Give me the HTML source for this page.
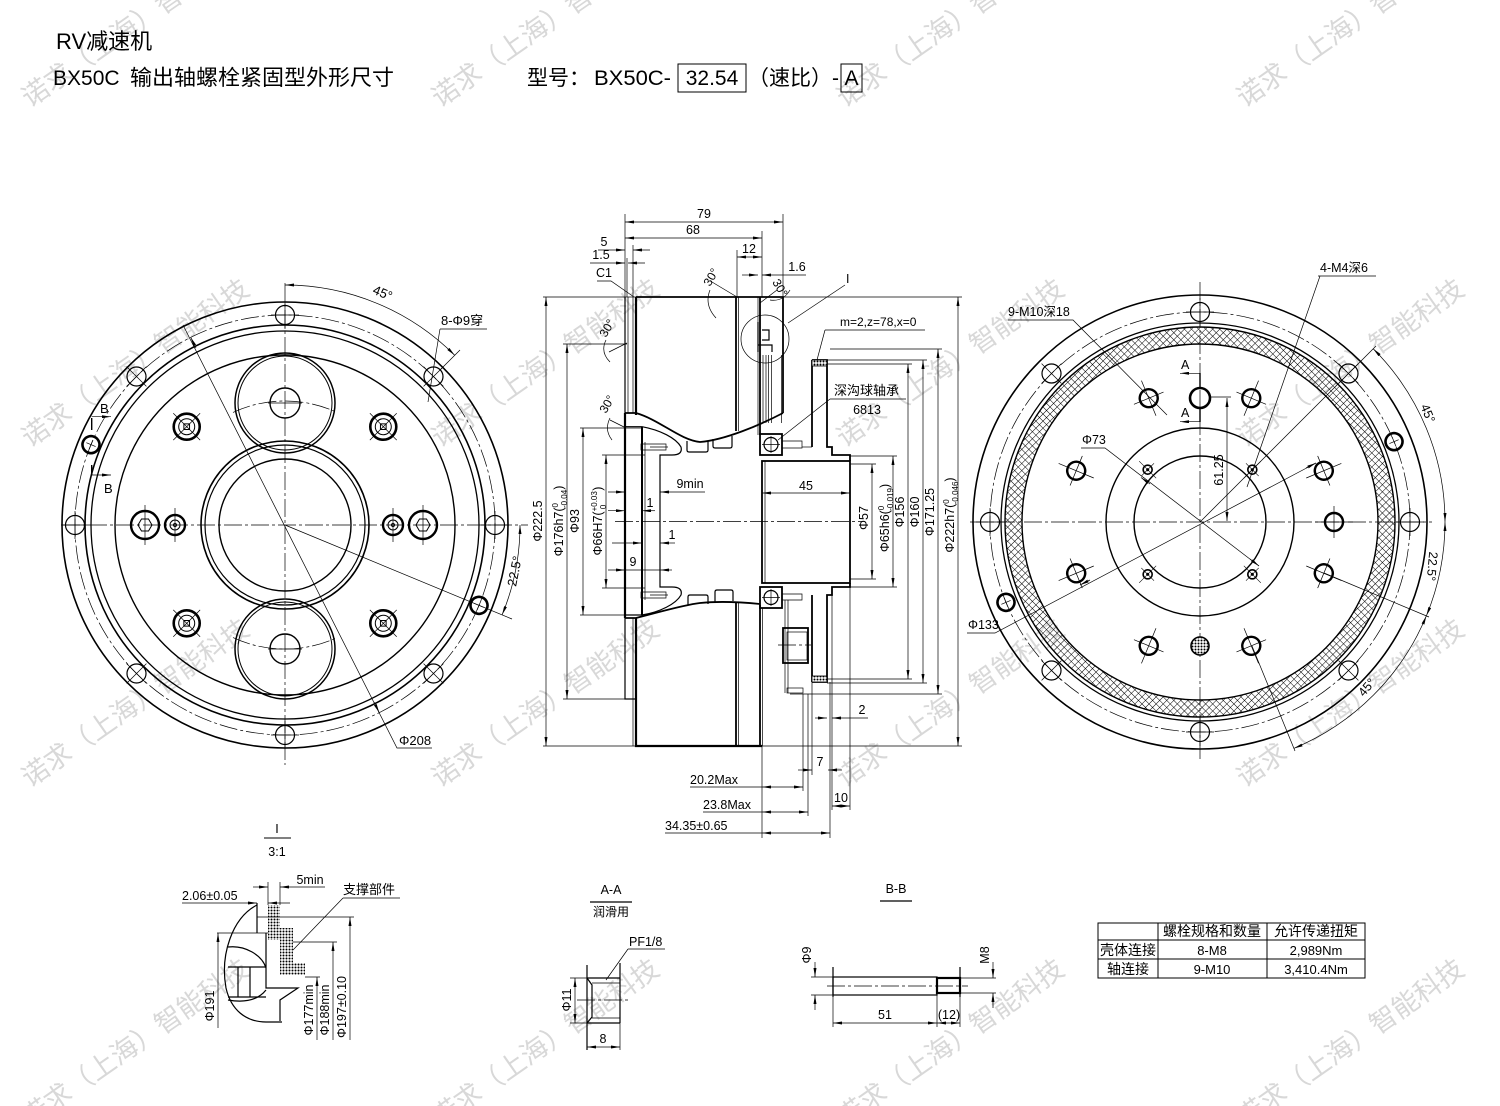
<!DOCTYPE html>
<html><head><meta charset="utf-8"><style>
html,body{margin:0;padding:0;background:#fff;}
svg{display:block;}
.g path,.g line,.g circle,.g rect,.g polyline{fill:none;stroke:#000;}
.t{stroke-width:.7}
.m{stroke-width:1.2}
.k{stroke-width:1.8}
.c{stroke-width:.7;stroke-dasharray:18,3,3,3}
.d{stroke-width:.7;marker-start:url(#ar);marker-end:url(#ar)}
.e{stroke-width:.7;marker-end:url(#ar)}
.tx text{font-family:"Liberation Sans","Noto Sans CJK SC",sans-serif;fill:#000;}
</style></head><body>
<svg width="1500" height="1106" viewBox="0 0 1500 1106" xmlns="http://www.w3.org/2000/svg">
<defs>
<marker id="ar" viewBox="0 0 9 3" refX="9" refY="1.5" markerWidth="9" markerHeight="3" markerUnits="userSpaceOnUse" orient="auto-start-reverse"><path d="M0,0L9,1.5L0,3z" fill="#000"/></marker>
<pattern id="xh" width="5" height="5" patternUnits="userSpaceOnUse" patternTransform="rotate(45)"><path d="M0,0H5M0,0V5" stroke="#000" stroke-width="1" fill="none"/></pattern>
<pattern id="dots" width="3" height="3" patternUnits="userSpaceOnUse"><rect width="3" height="3" fill="#fff"/><circle cx="1.5" cy="1.5" r="1" fill="#000"/></pattern>
<g id="bh" fill="none" stroke="#000"><circle r="9.5" stroke-width="1.2"/><path d="M-14,0H14M0,-14V14" stroke-width="0.7"/></g>
<g id="bt" fill="none" stroke="#000"><circle r="8.5" stroke-width="2.6"/><path d="M-5,0H5M0,-5V5" stroke-width="0.7"/></g>
<g id="m10" fill="none" stroke="#000"><circle r="9" stroke-width="2.4"/><path d="M-19,0H19M0,-16V16" stroke-width="0.7"/></g>
<g id="lb" fill="none" stroke="#000"><circle r="13" stroke-width="2.6"/><circle r="8" stroke-width="1"/><path d="M-4,0L0,-4L4,0L0,4Z" stroke-width="1"/><path d="M-19,0H19M0,-19V19" stroke-width="0.7"/></g>
<g id="m4" fill="none" stroke="#000"><circle r="4.5" stroke-width="1.6"/><circle r="1.5" fill="#000" stroke="none"/><path d="M-12,0H12M0,-9V9" stroke-width="0.6"/></g>
</defs>

<!-- watermarks -->
<g font-family="Liberation Sans, Noto Sans CJK SC, sans-serif" font-size="27" fill="#d8d8d8">
<text transform="translate(30,108) rotate(-35)">诺求（上海）智能科技</text>
<text transform="translate(440,108) rotate(-35)">诺求（上海）智能科技</text>
<text transform="translate(845,108) rotate(-35)">诺求（上海）智能科技</text>
<text transform="translate(1245,108) rotate(-35)">诺求（上海）智能科技</text>
<text transform="translate(30,448) rotate(-35)">诺求（上海）智能科技</text>
<text transform="translate(440,448) rotate(-35)">诺求（上海）智能科技</text>
<text transform="translate(845,448) rotate(-35)">诺求（上海）智能科技</text>
<text transform="translate(1245,448) rotate(-35)">诺求（上海）智能科技</text>
<text transform="translate(30,788) rotate(-35)">诺求（上海）智能科技</text>
<text transform="translate(440,788) rotate(-35)">诺求（上海）智能科技</text>
<text transform="translate(845,788) rotate(-35)">诺求（上海）智能科技</text>
<text transform="translate(1245,788) rotate(-35)">诺求（上海）智能科技</text>
<text transform="translate(30,1128) rotate(-35)">诺求（上海）智能科技</text>
<text transform="translate(440,1128) rotate(-35)">诺求（上海）智能科技</text>
<text transform="translate(845,1128) rotate(-35)">诺求（上海）智能科技</text>
<text transform="translate(1245,1128) rotate(-35)">诺求（上海）智能科技</text>
</g>

<!-- header -->
<g class="tx">
<text x="56" y="49" font-size="22">RV减速机</text>
<text x="53" y="85" font-size="21">BX50C</text>
<text x="130" y="85" font-size="21.5" textLength="264" lengthAdjust="spacingAndGlyphs">输出轴螺栓紧固型外形尺寸</text>
<text x="527" y="85" font-size="21">型号：</text>
<text x="594" y="85" font-size="21" textLength="77" lengthAdjust="spacingAndGlyphs">BX50C-</text>
<text x="712" y="85" font-size="21" text-anchor="middle">32.54</text>
<text x="748" y="85" font-size="21">（速比）-</text>
<text x="851.5" y="85" font-size="21" text-anchor="middle">A</text>
</g>
<g class="g"><rect x="678" y="64" width="68" height="28" style="stroke-width:1"/><rect x="841" y="64" width="21" height="28" style="stroke-width:1"/></g>

<!-- ============ LEFT VIEW ============ -->
<g class="g">
<circle cx="285" cy="525" r="223" style="stroke-width:1.6"/>
<circle cx="285" cy="525" r="210" class="c"/>
<circle cx="285" cy="525" r="200" style="stroke-width:1.6"/>
<circle cx="285" cy="525" r="194" style="stroke-width:1.3"/>
<circle cx="285" cy="525" r="170" style="stroke-width:1.4"/>
<circle cx="285" cy="403" r="50" style="stroke-width:1.5"/>
<circle cx="285" cy="403" r="47" style="stroke-width:1"/>
<circle cx="285" cy="403" r="15" style="stroke-width:1.4"/>
<circle cx="285" cy="649" r="50" style="stroke-width:1.5"/>
<circle cx="285" cy="649" r="47" style="stroke-width:1"/>
<circle cx="285" cy="649" r="15" style="stroke-width:1.4"/>
<path d="M233,412.4 A124,124 0 0 1 337,412.4" class="c"/>
<path d="M233,637.6 A124,124 0 0 0 337,637.6" class="c"/>
<path d="M268,403H302M268,649H302" class="t"/>
<circle cx="285" cy="525" r="84" style="stroke-width:1.6"/>
<circle cx="285" cy="525" r="80" style="stroke-width:1.2"/>
<circle cx="285" cy="525" r="66" style="stroke-width:1.4"/>
<path d="M62,525H528M285,283V765" class="c"/>
<circle cx="145" cy="525" r="14" style="stroke-width:2.4"/>
<path d="M152,525L148.5,531L141.5,531L138,525L141.5,519L148.5,519Z" style="stroke-width:1"/>
<circle cx="175" cy="525" r="10" style="stroke-width:2.4"/>
<circle cx="175" cy="525" r="5" style="stroke-width:1"/>
<circle cx="175" cy="525" r="1.5" style="stroke-width:1"/>
<circle cx="423" cy="525" r="14" style="stroke-width:2.4"/>
<path d="M430,525L426.5,531L419.5,531L416,525L419.5,519L426.5,519Z" style="stroke-width:1"/>
<circle cx="393" cy="525" r="10" style="stroke-width:2.4"/>
<circle cx="393" cy="525" r="5" style="stroke-width:1"/>
<circle cx="393" cy="525" r="1.5" style="stroke-width:1"/>
<path d="M145,505V545M175,508V542M423,505V545M393,508V542" class="t"/>
<path d="M183,325L397,748H432" class="t"/>
<path d="M196,348L190.7,337.3" class="e"/>
<path d="M374,702L379.3,712.7" class="e"/>
<path d="M285,525L512,619" class="t"/>
<path d="M285,285 A240,240 0 0 1 454.7,355.3" class="d"/>
<path d="M440,370L460,350" class="t"/>
<path d="M520,525 A235,235 0 0 1 502.1,614.9" class="d"/>
<path d="M440,329H487M440,329L428,402" class="t"/>
<path d="M91.7,418V430M91.7,465V475" style="stroke-width:1.4"/>
<path d="M91.7,416.7H111" class="e"/>
<path d="M91.7,475H111" class="e"/>
</g>
<g>
<use href="#bh" transform="translate(285,525) rotate(0) translate(210,0)"/>
<use href="#bh" transform="translate(285,525) rotate(-45) translate(210,0)"/>
<use href="#bh" transform="translate(285,525) rotate(-90) translate(210,0)"/>
<use href="#bh" transform="translate(285,525) rotate(-135) translate(210,0)"/>
<use href="#bh" transform="translate(285,525) rotate(-180) translate(210,0)"/>
<use href="#bh" transform="translate(285,525) rotate(-225) translate(210,0)"/>
<use href="#bh" transform="translate(285,525) rotate(-270) translate(210,0)"/>
<use href="#bh" transform="translate(285,525) rotate(-315) translate(210,0)"/>
<use href="#bt" transform="translate(285,525) rotate(-157.5) translate(210,0)"/>
<use href="#bt" transform="translate(285,525) rotate(22.5) translate(210,0)"/>
<use href="#lb" transform="translate(285,525) rotate(-45) translate(139,0)"/>
<use href="#lb" transform="translate(285,525) rotate(-135) translate(139,0)"/>
<use href="#lb" transform="translate(285,525) rotate(-225) translate(139,0)"/>
<use href="#lb" transform="translate(285,525) rotate(-315) translate(139,0)"/>
</g>
<g class="tx" font-size="13">
<text x="399" y="745">Φ208</text>
<text x="441" y="325">8-Φ9穿</text>
<text transform="translate(381,297) rotate(22.5)" text-anchor="middle">45°</text>
<text transform="translate(519,572) rotate(-78.75)" text-anchor="middle">22.5°</text>
<text x="100" y="413">B</text>
<text x="104" y="493">B</text>
</g>

<!-- ============ MIDDLE SECTION ============ -->
<g class="g">
<path d="M543,297H962M543,746H962" class="t"/>
<path d="M563,344H627M563,699H627M580,428H643M580,615H643M602,455H645M602,588H645" class="t"/>
<path d="M850,464H876M850,579H876M850,456H897M850,587H897M827,364H912M827,679H912M827,360H927M827,683H927M830,349H942M790,694H942" class="t"/>
<path d="M625,214V297M783,214V297M762,231V297M737,250V297M633,245V297M627,258V297" class="t"/>
<path d="M762,746V838M803,694V791M808,694V816M812,682V775M830,682V838M832,595V810M850,583V810" class="t"/>
<line x1="546" y1="297" x2="546" y2="746" class="d"/>
<line x1="567" y1="344" x2="567" y2="699" class="d"/>
<line x1="583" y1="428" x2="583" y2="615" class="d"/>
<line x1="606" y1="455" x2="606" y2="588" class="d"/>
<line x1="872" y1="464" x2="872" y2="579" class="d"/>
<line x1="893" y1="456" x2="893" y2="587" class="d"/>
<line x1="908" y1="364" x2="908" y2="679" class="d"/>
<line x1="923" y1="360" x2="923" y2="683" class="d"/>
<line x1="938" y1="349" x2="938" y2="694" class="d"/>
<line x1="958" y1="297" x2="958" y2="746" class="d"/>
<line x1="625" y1="222" x2="783" y2="222" class="d"/>
<line x1="625" y1="238" x2="762" y2="238" class="d"/>
<path d="M598,250H625" class="e"/><path d="M650,250H633" class="e"/>
<path d="M590,263H625" class="e"/><path d="M645,263H628" class="e"/>
<path d="M597,281H611L634,297" class="t"/>
<line x1="737" y1="257" x2="762" y2="257" class="d"/>
<path d="M742,275H758" class="e"/><path d="M806,275H762" class="e"/>
<path d="M609,352L627,343M610,420L626,428M712,282L737,297M760,303L777,290" class="t"/>
<path d="M606,340Q600,352 610,362M710,290Q704,305 716,318M770,300Q783,302 790,290M610,418Q604,430 612,440" class="t"/>
<!-- body -->
<path d="M625,297V413M625,618V699H635" class="m"/>
<path d="M625,413V618" style="stroke-width:2.2"/>
<path d="M628,297V413M633,297V413M633,618V746" class="t"/>
<path d="M636,297V415" style="stroke-width:2.2"/>
<path d="M636,618V746H762" style="stroke-width:2.2"/>
<path d="M636,297H783V413" class="k"/>
<path d="M736,297V431M736,603V746" class="k"/>
<path d="M738.5,297V431M738.5,603V746M758,297V435M763,355V423M766,355V423M768.5,355V423M771.5,355V423M781.5,355V423M762.5,608V746" class="t"/>
<path d="M760,297V435M760,605V746" class="k"/>
<path d="M785,600V693M788,600V693" class="t"/>
<path d="M625,413H636C660,420 680,440 700,442C725,440 760,425 783,413" class="k"/>
<path d="M687,441V450Q687,452 689,452H706Q708,452 708,450V441M713,439V446Q713,448 715,448H730Q732,448 732,446V436" class="m"/>
<path d="M625,618H636C660,612 683,605 700,603C720,601 740,602 760,604" class="k"/>
<path d="M688,605V597Q688,595 690,595H706Q708,595 708,597V604M715,602V592Q715,590 717,590H731Q733,590 733,592V601" class="m"/>
<path d="M625,426.7H642C660,430 676,438 681,447Q683,455 672,455H660V587H672Q683,587 681,595C676,604 660,612 642,615H625" class="m"/>
<path d="M642,426.7V615" style="stroke-width:2"/>
<path d="M645,442V600" class="t"/>
<path d="M641,444H666V450H641ZM641,592H666V598H641Z" class="t"/>
<path d="M650,447H668M650,595H668" class="t"/>
<!-- bearings -->
<rect x="760" y="434" width="22" height="21" class="k"/>
<circle cx="771" cy="444.5" r="7" class="m"/>
<path d="M762,444.5H780M771,436V453" class="t"/>
<rect x="760" y="587" width="22" height="21" class="k"/>
<circle cx="771" cy="597.5" r="7" class="m"/>
<path d="M762,597.5H780M771,589V606" class="t"/>
<path d="M782,441H802V448H782M782,594H802V600H782" class="t"/>
<!-- bore -->
<rect x="762" y="461" width="88" height="122" class="k"/>
<path d="M765,461V583" class="t"/>
<!-- output flange -->
<path d="M812,360H827V447H832V455H850V461" class="k"/>
<path d="M850,583V587H832V595H827V682H812" class="k"/>
<path d="M812,360V447M812,595V682" class="k"/>
<path d="M802,447H812" class="t"/>
<rect x="812" y="360" width="15" height="6" style="fill:url(#dots);stroke-width:.8"/>
<rect x="812" y="676" width="15" height="6" style="fill:url(#dots);stroke-width:.8"/>
<rect x="783" y="628" width="25" height="35" class="k"/>
<rect x="787" y="632" width="20" height="28" class="t"/>
<path d="M778,645H811" class="c"/>
<rect x="787" y="688" width="16" height="5" class="t"/>
<path d="M615,521.5H862" class="c"/>
<!-- detail I -->
<circle cx="765" cy="339" r="24" class="t"/>
<path d="M758,322V352M762,330H769V340H762M758,345H772V352" class="m"/>
<path d="M788,323L845,285" class="t"/>
<path d="M825,330H925M825,330L817,360" class="t"/>
<path d="M830,399H906M830,399L778,440" class="t"/>
<!-- inner dims -->
<path d="M608,492H625" class="e"/><path d="M705,492H660" class="e"/>
<path d="M608,510.7H625" class="e"/><path d="M655,510.7H642" class="e"/>
<path d="M612,543H642" class="e"/><path d="M675,543H660" class="e"/>
<path d="M608,570H625" class="e"/><path d="M672,570H660" class="e"/><path d="M625,570H660" class="t"/>
<line x1="762" y1="493" x2="850" y2="493" class="d"/>
<path d="M815,718H827" class="e"/><path d="M868,718H832" class="e"/>
<path d="M798,770H812" class="e"/><path d="M842,770H828" class="e"/>
<line x1="832" y1="806" x2="850" y2="806" class="d"/>
<path d="M690,787H762M703,812H762M665,833H762" class="t"/>
<line x1="762" y1="787" x2="803" y2="787" class="d"/>
<line x1="762" y1="812" x2="808" y2="812" class="d"/>
<line x1="762" y1="833" x2="830" y2="833" class="d"/>
</g>
<g class="tx" font-size="12.5">
<text x="704" y="218" text-anchor="middle">79</text>
<text x="693" y="234" text-anchor="middle">68</text>
<text x="604" y="246" text-anchor="middle">5</text>
<text x="601" y="259" text-anchor="middle">1.5</text>
<text x="604" y="277" text-anchor="middle">C1</text>
<text x="749" y="253" text-anchor="middle">12</text>
<text x="797" y="271" text-anchor="middle">1.6</text>
<text transform="translate(606,338) rotate(-60)" font-size="12">30°</text>
<text transform="translate(710,287) rotate(-60)" font-size="12">30°</text>
<text transform="translate(772,282) rotate(60)" font-size="12">30°</text>
<text transform="translate(606,414) rotate(-60)" font-size="12">30°</text>
<text x="846" y="283">I</text>
<text x="840" y="326" font-size="12">m=2,z=78,x=0</text>
<text x="834" y="395" font-size="13">深沟球轴承</text>
<text x="867" y="414" text-anchor="middle">6813</text>
<text x="690" y="488" text-anchor="middle">9min</text>
<text x="650" y="507" text-anchor="middle">1</text>
<text x="672" y="539" text-anchor="middle">1</text>
<text x="633" y="566" text-anchor="middle">9</text>
<text x="806" y="490" text-anchor="middle">45</text>
<text x="862" y="714" text-anchor="middle">2</text>
<text x="820" y="766" text-anchor="middle">7</text>
<text x="841" y="802" text-anchor="middle">10</text>
<text x="690" y="784">20.2Max</text>
<text x="703" y="809">23.8Max</text>
<text x="665" y="830">34.35±0.65</text>
<text transform="translate(542,521) rotate(-90)" text-anchor="middle">Φ222.5</text>
<text transform="translate(563,521) rotate(-90)" text-anchor="middle">Φ176h7(<tspan font-size="8" dy="-5">0</tspan><tspan font-size="8" dx="-5" dy="9">-0.04</tspan><tspan dy="-4">)</tspan></text>
<text transform="translate(579,521) rotate(-90)" text-anchor="middle">Φ93</text>
<text transform="translate(602,521) rotate(-90)" text-anchor="middle">Φ66H7(<tspan font-size="8" dy="-5">+0.03</tspan><tspan font-size="8" dx="-18" dy="9">0</tspan><tspan dx="14" dy="-4">)</tspan></text>
<text transform="translate(868,518) rotate(-90)" text-anchor="middle">Φ57</text>
<text transform="translate(889,518) rotate(-90)" text-anchor="middle">Φ65h6(<tspan font-size="8" dy="-5">0</tspan><tspan font-size="8" dx="-5" dy="9">-0.019</tspan><tspan dy="-4">)</tspan></text>
<text transform="translate(904,512) rotate(-90)" text-anchor="middle">Φ156</text>
<text transform="translate(919,512) rotate(-90)" text-anchor="middle">Φ160</text>
<text transform="translate(934,512) rotate(-90)" text-anchor="middle">Φ171.25</text>
<text transform="translate(954,515) rotate(-90)" text-anchor="middle">Φ222h7(<tspan font-size="8" dy="-5">0</tspan><tspan font-size="8" dx="-5" dy="9">-0.046</tspan><tspan dy="-4">)</tspan></text>
</g>

<!-- ============ RIGHT VIEW ============ -->
<g class="g">
<path d="M1395,522A195,195 0 1 0 1005,522A195,195 0 1 0 1395,522ZM1378,522A178,178 0 1 0 1022,522A178,178 0 1 0 1378,522Z" style="fill:url(#xh);fill-rule:evenodd;stroke:none"/>
<circle cx="1200" cy="522" r="227" style="stroke-width:1.6"/>
<circle cx="1200" cy="522" r="210" class="c"/>
<circle cx="1200" cy="522" r="199" style="stroke-width:1.3"/>
<circle cx="1200" cy="522" r="195" style="stroke-width:1.4"/>
<circle cx="1200" cy="522" r="178" style="stroke-width:1.4"/>
<circle cx="1200" cy="522" r="94" style="stroke-width:1.4"/>
<circle cx="1200" cy="522" r="66" style="stroke-width:1.4"/>
<path d="M970,522H1432M1200,282V760" class="c"/>
<circle cx="1200" cy="398" r="10" style="stroke-width:2.6"/>
<circle cx="1200" cy="646" r="9" style="fill:url(#dots);stroke-width:1.6"/>
<path d="M1200,373V387M1200,407V422" style="stroke-width:1.4"/>
<path d="M1200,373.3H1180" class="e"/>
<path d="M1200,421.7H1180" class="e"/>
<path d="M1210,397H1231" class="t"/>
<line x1="1227" y1="398" x2="1227" y2="521" class="d"/>
<path d="M1008,320H1073L1167,415" class="t"/>
<path d="M1318,276H1376M1320,276L1247,487" class="t"/>
<path d="M1081,448H1105L1259,566" class="t"/>
<path d="M1150,484L1141,477.5" class="e"/>
<path d="M1250,559L1259,566" class="e"/>
<path d="M967,633H995L1316,463" class="t"/>
<path d="M1306,468L1316,463" class="e"/>
<path d="M1090,580L1080,585" class="e"/>
<path d="M1200,522L1376,346" class="t"/>
<path d="M1324,573L1429,617M1252,646L1295,751" class="t"/>
<path d="M1373.2,348.8A245,245 0 0 1 1445,522" class="d"/>
<path d="M1445,522A245,245 0 0 1 1426.4,615.8" class="d"/>
<path d="M1426.4,615.8A245,245 0 0 1 1293.8,748.4" class="d"/>
</g>
<g>
<use href="#bh" transform="translate(1200,522) rotate(0) translate(210,0)"/>
<use href="#bh" transform="translate(1200,522) rotate(-45) translate(210,0)"/>
<use href="#bh" transform="translate(1200,522) rotate(-90) translate(210,0)"/>
<use href="#bh" transform="translate(1200,522) rotate(-135) translate(210,0)"/>
<use href="#bh" transform="translate(1200,522) rotate(-180) translate(210,0)"/>
<use href="#bh" transform="translate(1200,522) rotate(-225) translate(210,0)"/>
<use href="#bh" transform="translate(1200,522) rotate(-270) translate(210,0)"/>
<use href="#bh" transform="translate(1200,522) rotate(-315) translate(210,0)"/>
<use href="#bt" transform="translate(1200,522) rotate(-22.5) translate(210,0)"/>
<use href="#bt" transform="translate(1200,522) rotate(-202.5) translate(210,0)"/>
<use href="#m10" transform="translate(1200,522) rotate(-112.5) translate(134,0)"/>
<use href="#m10" transform="translate(1200,522) rotate(-67.5) translate(134,0)"/>
<use href="#m10" transform="translate(1200,522) rotate(-22.5) translate(134,0)"/>
<use href="#m10" transform="translate(1200,522) rotate(0) translate(134,0)"/>
<use href="#m10" transform="translate(1200,522) rotate(22.5) translate(134,0)"/>
<use href="#m10" transform="translate(1200,522) rotate(67.5) translate(134,0)"/>
<use href="#m10" transform="translate(1200,522) rotate(112.5) translate(134,0)"/>
<use href="#m10" transform="translate(1200,522) rotate(157.5) translate(134,0)"/>
<use href="#m10" transform="translate(1200,522) rotate(-157.5) translate(134,0)"/>
<use href="#m4" transform="translate(1200,522) rotate(-45) translate(74,0)"/>
<use href="#m4" transform="translate(1200,522) rotate(-135) translate(74,0)"/>
<use href="#m4" transform="translate(1200,522) rotate(-225) translate(74,0)"/>
<use href="#m4" transform="translate(1200,522) rotate(-315) translate(74,0)"/>
</g>
<g class="tx" font-size="12.5">
<text x="1008" y="316">9-M10深18</text>
<text x="1320" y="272">4-M4深6</text>
<text x="1082" y="444">Φ73</text>
<text x="968" y="629">Φ133</text>
<text transform="translate(1223,470) rotate(-90)" text-anchor="middle">61.25</text>
<text x="1181" y="369">A</text>
<text x="1181" y="417">A</text>
<text transform="translate(1424,415) rotate(67.5)" text-anchor="middle">45°</text>
<text transform="translate(1428,566) rotate(95)" text-anchor="middle">22.5°</text>
<text transform="translate(1370,690) rotate(-50)" text-anchor="middle">45°</text>
</g>

<!-- ============ DETAIL I ============ -->
<g class="g">
<path d="M264,838H291" style="stroke-width:1"/>
<polygon points="268,905 280,905 280,928 293,928 293,963 305,963 305,975 280,975 280,940 268,940" style="fill:url(#dots);stroke-width:1"/>
<path d="M257,905C232,918 220,955 226,988C231,1010 246,1022 266,1022H282" class="m"/>
<path d="M228,947C245,945 262,955 266,968M228,1000C245,1003 258,1000 266,990" class="m"/>
<path d="M238,967V997M250,967V997M228,967H266M228,997H266" class="m"/>
<path d="M257,903V933M266,933V988H298L280,1000V1021" class="m"/>
<path d="M217,933H268" class="t"/>
<path d="M257,917H354M293,942H337M305,977H320" class="t"/>
<path d="M218,1028V933" class="e"/>
<path d="M317,1040V977" class="e"/>
<path d="M333,1040V942" class="e"/>
<path d="M350,1040V917" class="e"/>
<path d="M268,882V905M280,882V905" class="t"/>
<path d="M253,887H268" class="e"/><path d="M325,887H280" class="e"/>
<path d="M182,903H257" class="e"/><path d="M290,903H268" class="e"/>
<path d="M343,898H400M343,898L293,950" class="t"/>
</g>
<g class="tx" font-size="12.5">
<text x="277" y="833" text-anchor="middle">I</text>
<text x="277" y="856" text-anchor="middle">3:1</text>
<text x="310" y="884" text-anchor="middle">5min</text>
<text x="182" y="900">2.06±0.05</text>
<text x="343" y="894" font-size="13">支撑部件</text>
<text transform="translate(214,1006) rotate(-90)" text-anchor="middle">Φ191</text>
<text transform="translate(313,1010) rotate(-90)" text-anchor="middle">Φ177min</text>
<text transform="translate(329,1010) rotate(-90)" text-anchor="middle">Φ188min</text>
<text transform="translate(346,1007) rotate(-90)" text-anchor="middle">Φ197±0.10</text>
</g>

<!-- ============ A-A ============ -->
<g class="g">
<path d="M590,902H632" style="stroke-width:1.2"/>
<path d="M628,949H665M628,949L606,980" class="t"/>
<path d="M587,965V1050" class="m"/>
<path d="M587,978L592,985V1017L587,1023" class="m"/>
<path d="M587,978H620M587,1023H620M620,963V1023" class="m"/>
<path d="M592,983H620M592,1018H620" class="t"/>
<path d="M577,1000H630" class="c"/>
<path d="M570,978H587M570,1023H587M620,1023V1050" class="t"/>
<line x1="575" y1="978" x2="575" y2="1023" class="d"/>
<line x1="587" y1="1047" x2="620" y2="1047" class="d"/>
</g>
<g class="tx" font-size="12.5">
<text x="611" y="894" text-anchor="middle">A-A</text>
<text x="611" y="916" text-anchor="middle" font-size="12">润滑用</text>
<text x="629" y="946">PF1/8</text>
<text transform="translate(571,1000) rotate(-90)" text-anchor="middle">Φ11</text>
<text x="603" y="1043" text-anchor="middle">8</text>
</g>

<!-- ============ B-B ============ -->
<g class="g">
<path d="M880,901H912" style="stroke-width:1.2"/>
<rect x="833" y="977" width="104" height="18" class="m"/>
<rect x="937" y="978" width="23" height="15" style="stroke-width:2.2"/>
<path d="M833,967V997M960,967V997" class="m"/>
<path d="M833,997V1027M960,997V1027M937,995V1027" class="t"/>
<path d="M827,986H968" class="c"/>
<path d="M811,977H833M811,995H833M960,978H996M960,993H996" class="t"/>
<path d="M815,962V977" class="e"/><path d="M815,1010V995" class="e"/>
<path d="M993,962V978" class="e"/><path d="M993,1008V993" class="e"/>
<line x1="833" y1="1023" x2="937" y2="1023" class="d"/>
<line x1="937" y1="1023" x2="960" y2="1023" class="d"/>
</g>
<g class="tx" font-size="12.5">
<text x="896" y="893" text-anchor="middle">B-B</text>
<text transform="translate(811,955) rotate(-90)" text-anchor="middle">Φ9</text>
<text transform="translate(989,955) rotate(-90)" text-anchor="middle">M8</text>
<text x="885" y="1019" text-anchor="middle">51</text>
<text x="949" y="1019" text-anchor="middle">(12)</text>
</g>

<!-- ============ TABLE ============ -->
<g class="g">
<rect x="1098" y="923" width="267" height="55" style="stroke-width:1"/>
<path d="M1098,940H1365M1098,959H1365M1158,923V978M1267,923V978" style="stroke-width:1"/>
</g>
<g class="tx" font-size="13">
<text x="1212" y="936" text-anchor="middle" font-size="14">螺栓规格和数量</text>
<text x="1316" y="936" text-anchor="middle" font-size="14">允许传递扭矩</text>
<text x="1128" y="955" text-anchor="middle" font-size="14">壳体连接</text>
<text x="1212" y="955" text-anchor="middle">8-M8</text>
<text x="1316" y="955" text-anchor="middle">2,989Nm</text>
<text x="1128" y="974" text-anchor="middle" font-size="14">轴连接</text>
<text x="1212" y="974" text-anchor="middle">9-M10</text>
<text x="1316" y="974" text-anchor="middle">3,410.4Nm</text>
</g>
</svg>
</body></html>
